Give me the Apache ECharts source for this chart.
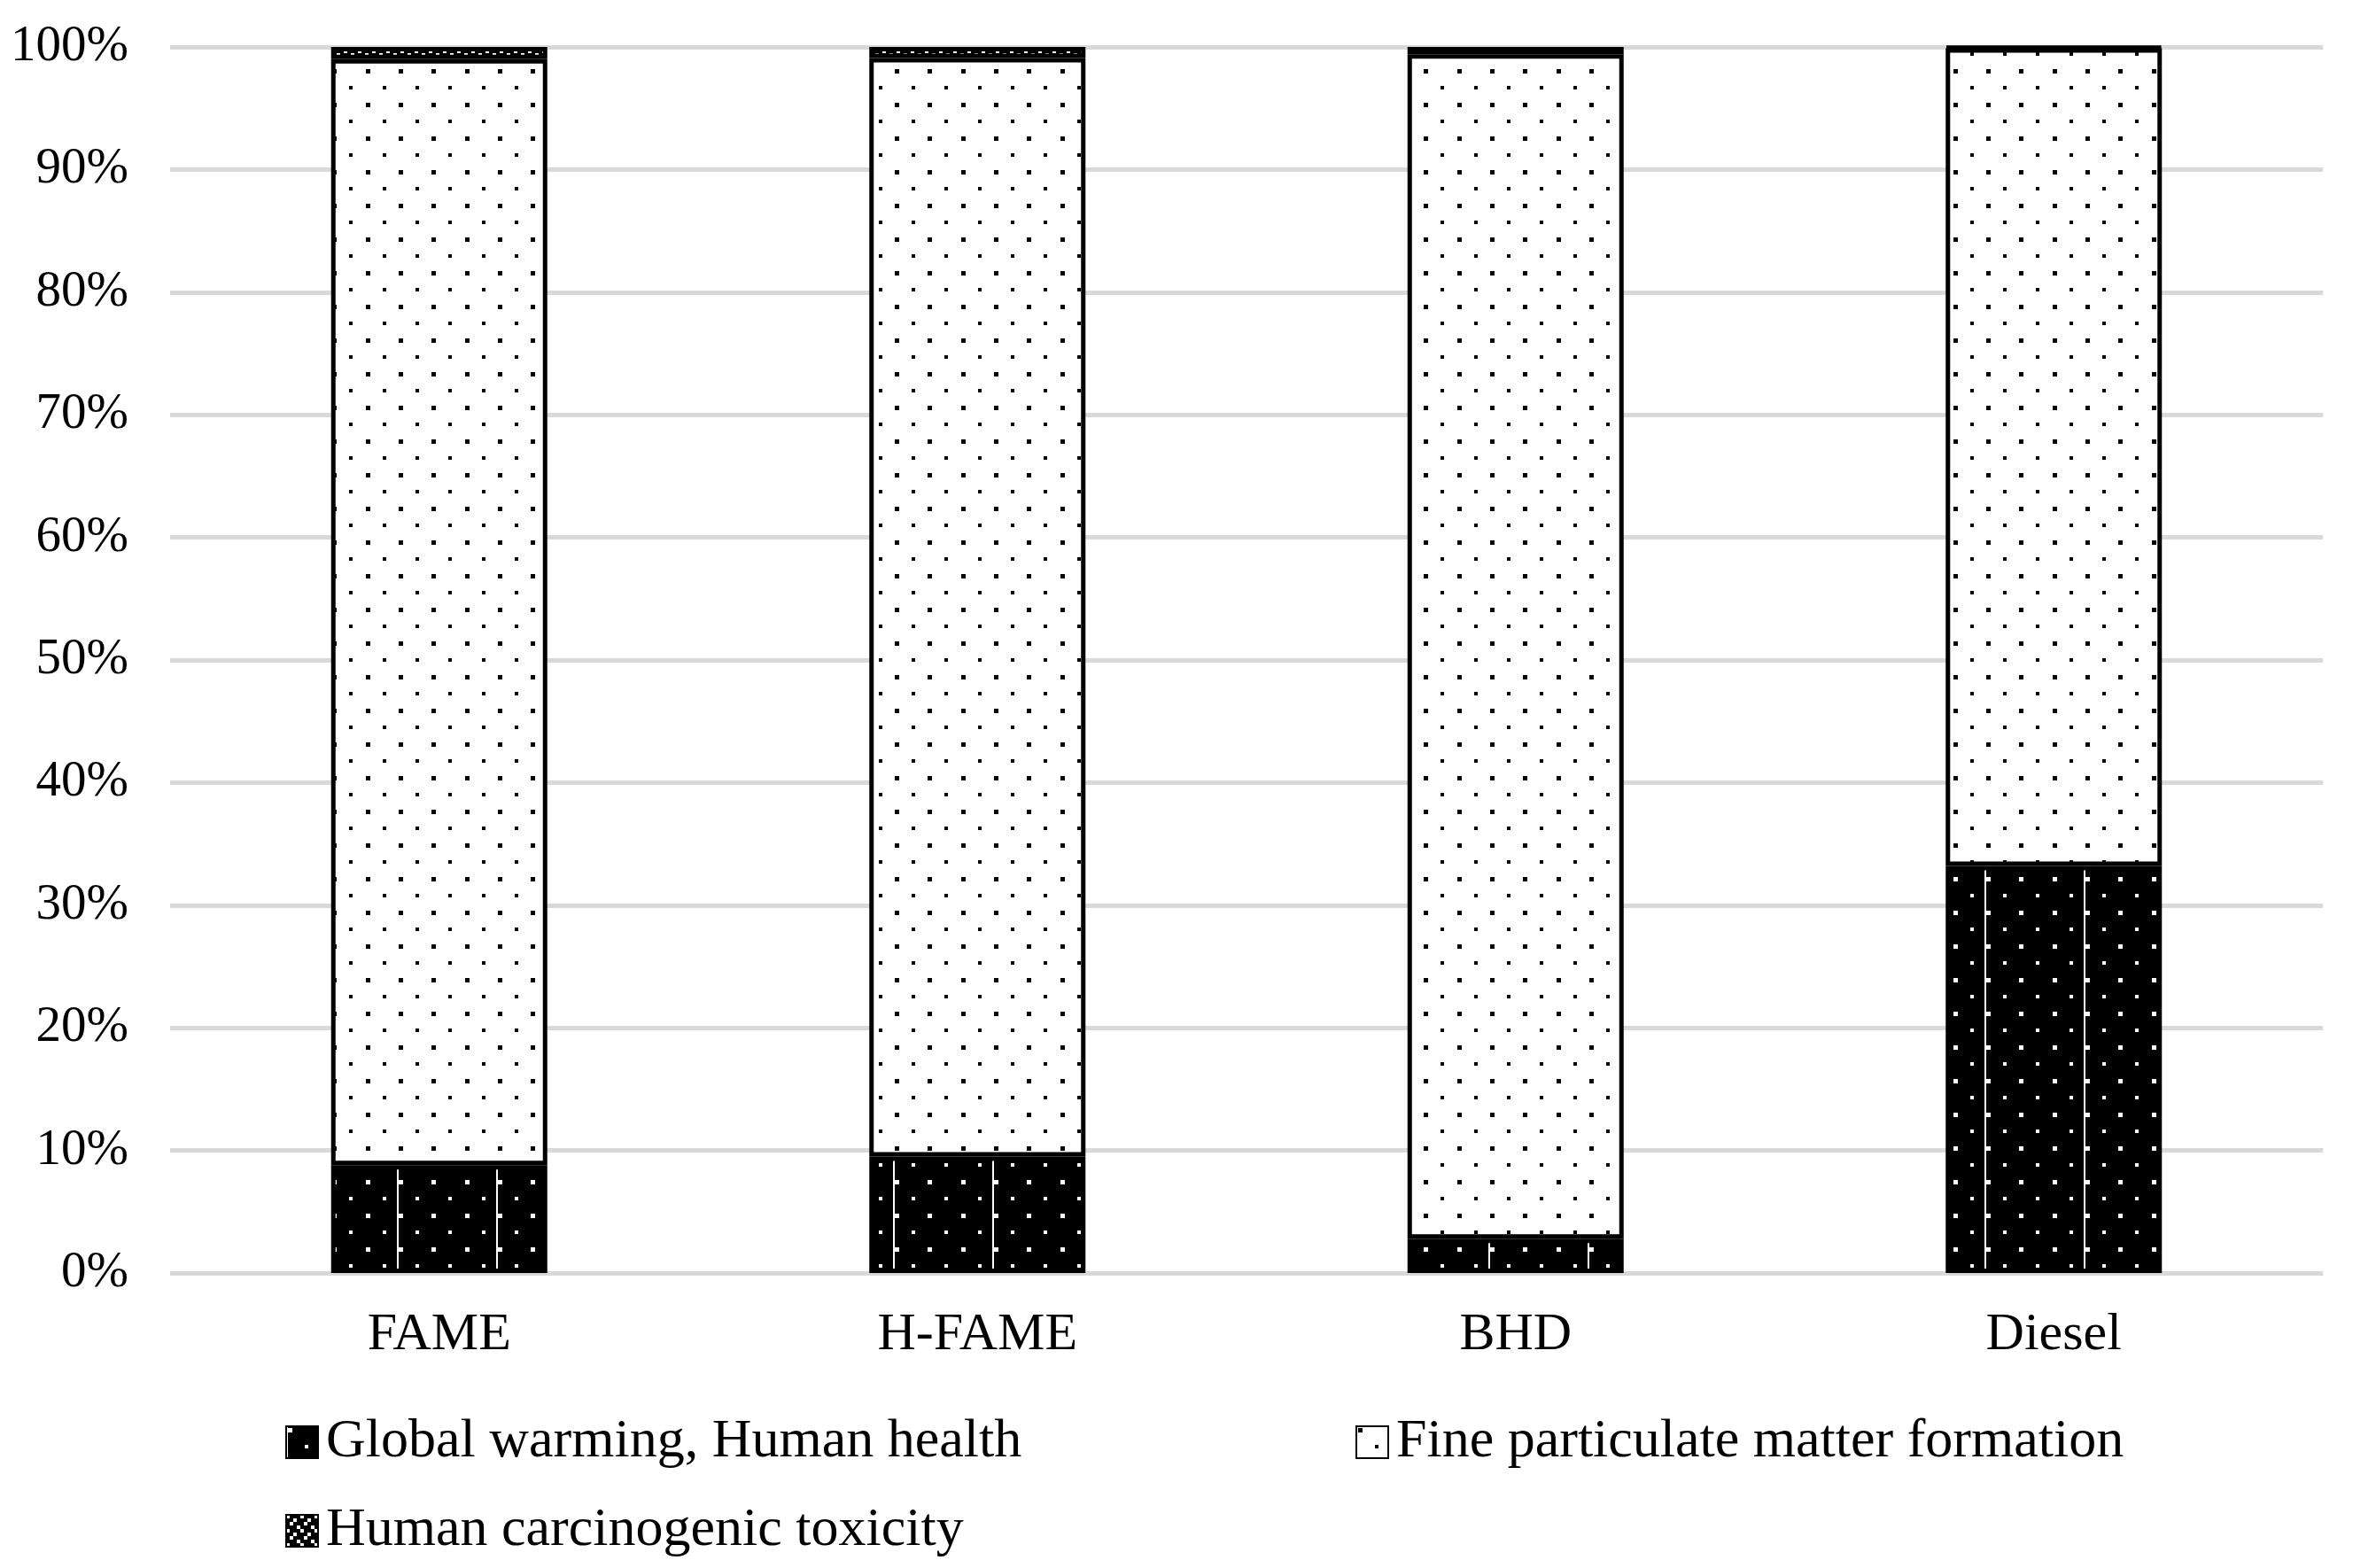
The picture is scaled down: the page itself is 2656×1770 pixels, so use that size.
<!DOCTYPE html>
<html>
<head>
<meta charset="utf-8">
<script src="https://cdn.jsdelivr.net/npm/echarts@6/dist/echarts.min.js"></script>
<style>
html,body{margin:0;padding:0;background:#fff;}
#chart{width:2656px;height:1770px;}
</style>
</head>
<body>
<div id="chart"></div>
<script>
const categories = ['FAME', 'H-FAME', 'BHD', 'Diesel'];
const seriesNames = ['Global warming, Human health', 'Fine particulate matter formation', 'Human carcinogenic toxicity'];
const globalWarming = [8.8, 9.5, 2.8, 33.2];
const fineParticulate = [90.2, 89.6, 96.6, 66.7];
const carcinogenic = [1.0, 0.9, 0.6, 0.1];
const yTicks = [0, 10, 20, 30, 40, 50, 60, 70, 80, 90, 100];

function dotPattern(bg, fg, withLines) {
  const c = document.createElement('canvas');
  c.width = 112; c.height = 38;
  const g = c.getContext('2d');
  g.fillStyle = bg; g.fillRect(0, 0, 112, 38);
  g.fillStyle = fg;
  for (let k = 0; k < 3; k++) {
    const x = Math.round(k * 37.33);
    g.fillRect(x + 2, 2, 5, 5);
    g.fillRect(x + 21, 21, 4, 4);
  }
  if (withLines) g.fillRect(0, 0, 2, 38);
  return {image: c, repeat: 'repeat'};
}
function checkPattern() {
  const c = document.createElement('canvas');
  c.width = 16; c.height = 16;
  const g = c.getContext('2d');
  g.fillStyle = '#000'; g.fillRect(0, 0, 16, 16);
  g.fillStyle = '#fff';
  g.fillRect(0, 0, 4, 4); g.fillRect(8, 4, 4, 4);
  g.fillRect(4, 8, 4, 4); g.fillRect(12, 12, 4, 4);
  return {image: c, repeat: 'repeat'};
}

const font = '"Liberation Serif", "Times New Roman", serif';
const chart = echarts.init(document.getElementById('chart'), null, {renderer: 'canvas'});
const patterns = [dotPattern('#000', '#fff', true), dotPattern('#fff', '#000', false), checkPattern()];
const values = [globalWarming, fineParticulate, carcinogenic];

function legend(name, left, top) {
  return {
    data: [name], left: left, top: top, padding: 0, orient: 'horizontal',
    itemWidth: 36, itemHeight: 36, icon: 'rect',
    textStyle: {fontFamily: font, fontSize: 62, color: '#000', lineHeight: 62, padding: [0, 0, 0, 4]},
    selectedMode: false
  };
}

chart.setOption({
  backgroundColor: '#fff',
  animation: false,
  grid: {left: 192, right: 34, top: 53, bottom: 333, containLabel: false},
  legend: [
    legend(seriesNames[0], 322, 1597),
    legend(seriesNames[1], 1530, 1597),
    legend(seriesNames[2], 322, 1697)
  ],
  xAxis: {
    type: 'category', data: categories,
    axisLine: {show: false}, axisTick: {show: false},
    axisLabel: {fontFamily: font, fontSize: 60, color: '#000', margin: 40}
  },
  yAxis: {
    type: 'value', min: 0, max: 100, interval: 10,
    axisLine: {show: false}, axisTick: {show: false},
    axisLabel: {fontFamily: font, fontSize: 57, color: '#000', margin: 47, formatter: '{value}%'},
    splitLine: {show: true, lineStyle: {color: '#d9d9d9', width: 5}}
  },
  series: seriesNames.map((n, i) => ({
    name: n, type: 'bar', stack: 'total', data: values[i], barWidth: 244,
    itemStyle: {color: patterns[i], borderColor: '#000', borderWidth: 5}
  }))
});
</script>
</body>
</html>
